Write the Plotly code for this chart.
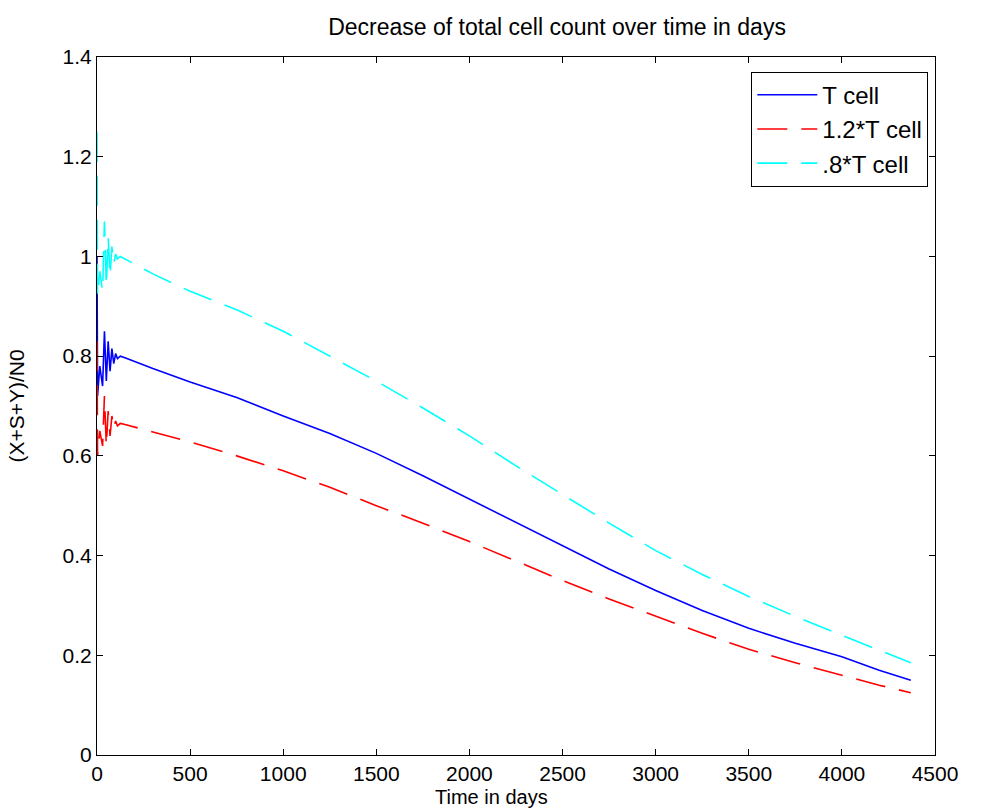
import plotly.graph_objects as go

# time in days
t = [0, 3, 15, 30, 40, 50, 60, 70, 80, 90, 100, 110, 125, 150, 300, 500, 750, 1000, 1250, 1500,
     1750, 2000, 2250, 2500, 2750, 3000, 3250, 3500, 3750, 4000, 4200, 4370]

t_cell = [1.0, 0.72, 0.78, 0.74, 0.85, 0.75, 0.83, 0.77, 0.815, 0.785, 0.805, 0.795, 0.80, 0.797,
          0.775, 0.748, 0.717, 0.680, 0.645, 0.605, 0.560, 0.513, 0.466, 0.420, 0.373, 0.330,
          0.290, 0.254, 0.224, 0.197, 0.170, 0.150]

t_cell_12 = [0.83, 0.60, 0.65, 0.62, 0.72, 0.62, 0.69, 0.64, 0.68, 0.655, 0.67, 0.66, 0.665, 0.663,
             0.648, 0.628, 0.600, 0.570, 0.537, 0.500, 0.465, 0.428, 0.389, 0.350, 0.313, 0.278,
             0.244, 0.212, 0.185, 0.160, 0.140, 0.125]

t_cell_08 = [1.25, 0.92, 0.97, 0.93, 1.07, 0.94, 1.04, 0.96, 1.02, 0.985, 1.005, 0.995, 1.0, 0.995,
             0.965, 0.930, 0.893, 0.850, 0.800, 0.750, 0.696, 0.640, 0.580, 0.522, 0.465, 0.410,
             0.362, 0.318, 0.278, 0.240, 0.210, 0.185]

font = "Liberation Sans, Arial, sans-serif"
fs = 21
M_B = 55
PLOT_H = 810 - 57 - M_B

fig = go.Figure()
fig.add_trace(go.Scatter(x=t, y=t_cell, mode="lines", name="T cell",
                         line=dict(color="#0000ff", width=1.6)))
fig.add_trace(go.Scatter(x=t, y=t_cell_12, mode="lines", name="1.2*T cell",
                         line=dict(color="#ff0000", width=1.6, dash="30px,14px")))
fig.add_trace(go.Scatter(x=t, y=t_cell_08, mode="lines", name=".8*T cell",
                         line=dict(color="#00ffff", width=1.6, dash="30px,14px")))

axis_common = dict(showgrid=False, zeroline=False, showline=True, linecolor="black",
                   linewidth=1, mirror="allticks", ticks="inside", ticklen=6,
                   tickcolor="black", tickfont=dict(family=font, size=fs, color="black"))

fig.update_layout(
    width=997, height=810,
    paper_bgcolor="white", plot_bgcolor="white",
    margin=dict(l=97, r=62, t=57, b=M_B),
    title=dict(text="Decrease of total cell count over time in days", x=0.549,
               xref="paper", xanchor="center", y=1 - 27 / 810, yref="container",
               yanchor="middle",
               font=dict(family=font, size=23, color="black")),
    xaxis=dict(range=[0, 4500], tickvals=[0, 500, 1000, 1500, 2000, 2500, 3000, 3500, 4000, 4500],
               ticklabelstandoff=0, automargin=False, **axis_common),
    yaxis=dict(range=[0, 1.4], tickvals=[0, 0.2, 0.4, 0.6, 0.8, 1.0, 1.2, 1.4],
               ticktext=["0", "0.2", "0.4", "0.6", "0.8", "1", "1.2", "1.4"],
               title=dict(text="(X+S+Y)/N0", standoff=32,
                          font=dict(family=font, size=fs, color="black")),
               **axis_common),
    annotations=[dict(text="Time in days", xref="paper", yref="paper", x=0.471,
                      y=-(M_B - 1) / PLOT_H,
                      xanchor="center", yanchor="bottom", showarrow=False, borderpad=0,
                      font=dict(family=font, size=20, color="black"))],
    legend=dict(x=0.992, y=0.979, xanchor="right", yanchor="top",
                bgcolor="white", bordercolor="black", borderwidth=1,
                itemwidth=60,
                font=dict(family=font, size=24, color="black")),
    showlegend=True,
)

fig.write_html("out.html")
